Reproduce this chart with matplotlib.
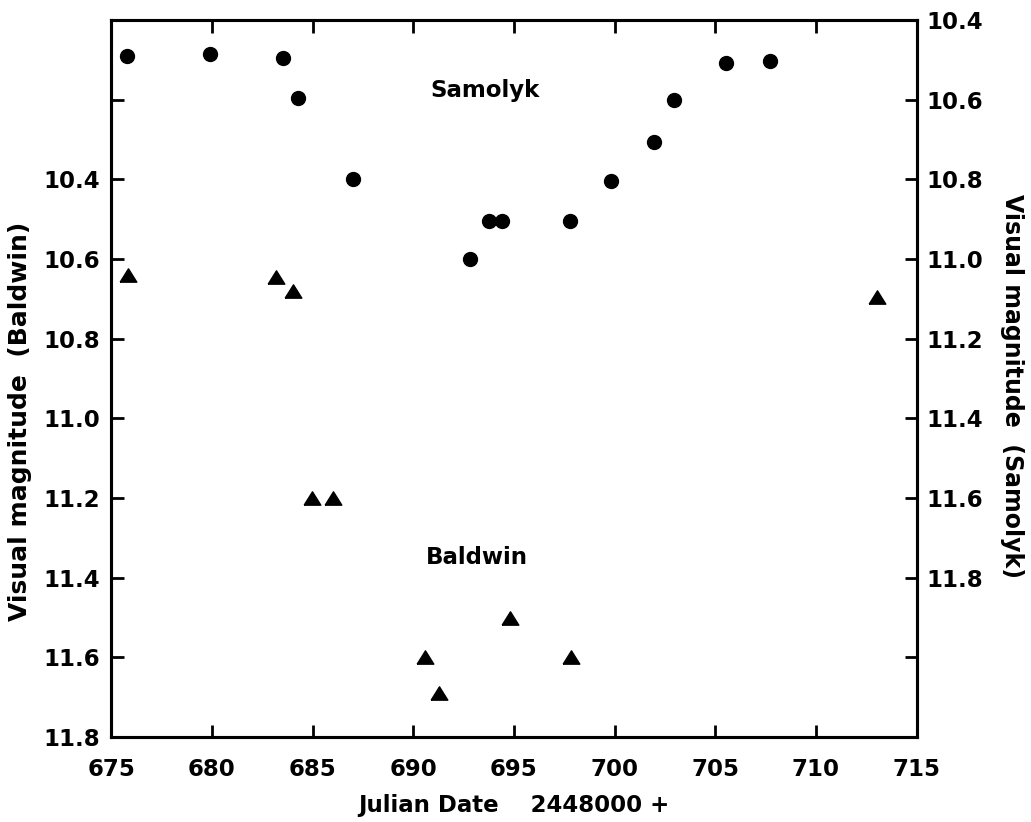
import matplotlib
matplotlib.use('Agg')
import matplotlib.pyplot as plt
import numpy as np

plt.rcParams['font.family'] = ['DejaVu Sans']
plt.rcParams['font.weight'] = 'bold'
plt.rcParams['axes.labelweight'] = 'bold'

# Samolyk observations (right axis)
sam_jd = [675.8, 679.9, 683.55, 684.25, 687.0, 692.8, 693.75, 694.4, 697.8,
          699.8, 701.95, 702.95, 705.55, 707.7]
sam_mag = [10.49, 10.485, 10.495, 10.595, 10.8, 11.0, 10.905, 10.905, 10.905,
           10.805, 10.705, 10.6, 10.507, 10.503]

# Baldwin observations (left axis)
bal_jd = [675.85, 683.2, 684.0, 684.95, 686.0, 690.6, 691.3, 694.8, 697.85, 713.05]
bal_mag = [10.64, 10.645, 10.68, 11.2, 11.2, 11.6, 11.69, 11.5, 11.6, 10.695]

left_ticks = [10.0, 10.2, 10.4, 10.6, 10.8, 11.0, 11.2, 11.4, 11.6, 11.8]
left_labels = ['', '', '10.4', '10.6', '10.8', '11.0', '11.2', '11.4', '11.6', '11.8']
right_ticks = [10.4, 10.6, 10.8, 11.0, 11.2, 11.4, 11.6, 11.8, 12.0, 12.2]
right_labels = ['10.4', '10.6', '10.8', '11.0', '11.2', '11.4', '11.6', '11.8', '', '']
x_ticks = [675, 680, 685, 690, 695, 700, 705, 710, 715]

fig = plt.figure(figsize=(10.31, 8.22), dpi=100)
ax = fig.add_axes([0.108, 0.1034, 0.781, 0.8722])
ax2 = ax.twinx()

tri = [(-1, -0.8), (1, -0.8), (0, 0.8), (-1, -0.8)]
ax.plot(bal_jd, bal_mag, linestyle='none', marker=tri, markersize=12, color='black')
ax2.plot(sam_jd, sam_mag, linestyle='none', marker='o', markersize=10, color='black')

ax.set_xlim(675, 715)
ax.set_ylim(11.8, 10.0)
ax2.set_ylim(12.2, 10.4)

ax.set_xticks(x_ticks)
ax.set_yticks(left_ticks)
ax.set_yticklabels(left_labels)
ax2.set_yticks(right_ticks)
ax2.set_yticklabels(right_labels)

fs = 16.5
ax.tick_params(axis='x', direction='in', top=True, length=9, width=2, labelsize=fs, pad=15)
ax.tick_params(axis='y', direction='in', length=9, width=2, labelsize=fs, pad=8)
ax2.tick_params(axis='y', direction='in', length=9, width=2, labelsize=fs, pad=7)

for a in (ax, ax2):
    for s in a.spines.values():
        s.set_linewidth(2.2)

ax.set_xlabel('Julian Date    2448000 +', fontsize=fs, va='center', ha='center')
ax.xaxis.set_label_coords(0.5, -0.095)
ax.set_ylabel('Visual magnitude  (Baldwin)', fontsize=fs + 1.5, va='center', ha='center')
ax.yaxis.set_label_coords(-0.114, 0.44)
ax2.set_ylabel('Visual magnitude  (Samolyk)', fontsize=fs + 0.5, rotation=-90,
               va='center', ha='center')
ax2.yaxis.set_label_coords(1.118, 0.49)

ax.text(0.464, 0.902, 'Samolyk', transform=ax.transAxes, fontsize=fs,
        ha='center', va='center')
ax.text(0.454, 0.251, 'Baldwin', transform=ax.transAxes, fontsize=fs,
        ha='center', va='center')

fig.savefig('out.png', dpi=100)
